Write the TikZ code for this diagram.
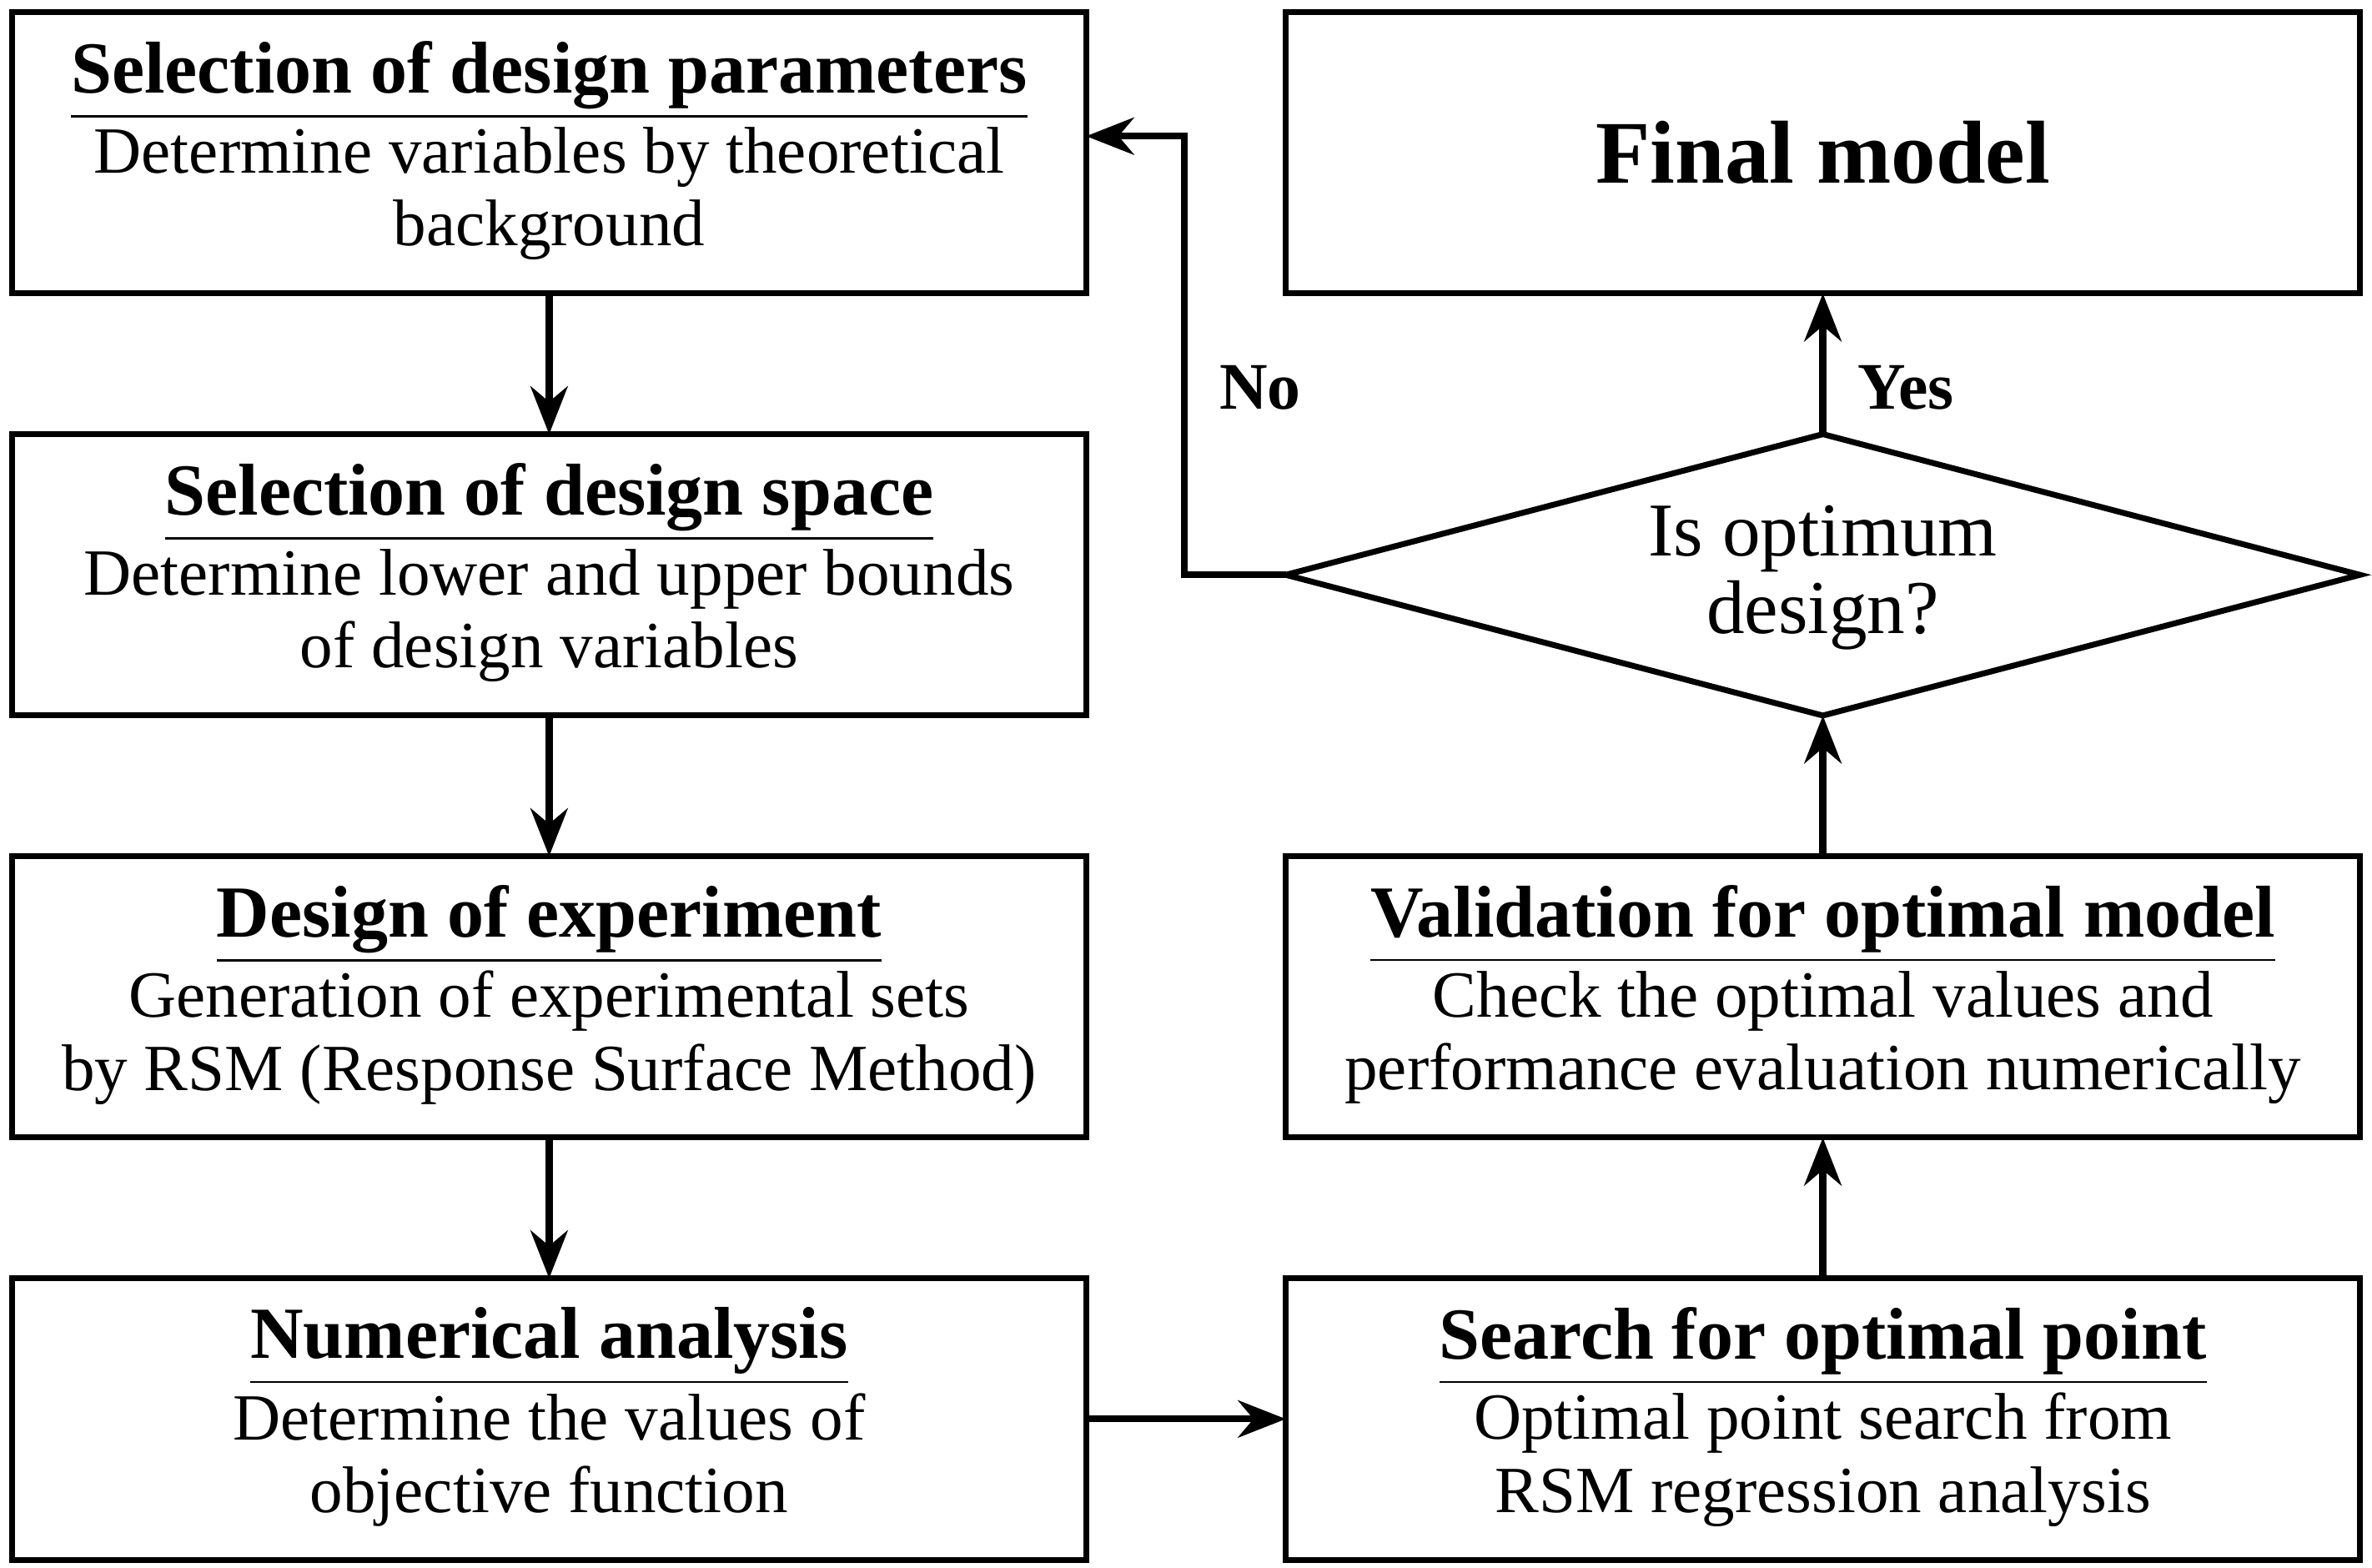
\documentclass[tikz,border=0pt]{standalone}
\usepackage{fontspec}
\setmainfont{Liberation Serif}
\usetikzlibrary{shapes.geometric,arrows.meta}
\begin{document}
\begin{tikzpicture}[x=0.01cm,y=-0.01cm,
  ar/.style={line width=1.3pt,-{Stealth[length=9pt,width=7pt]}},
  t/.style={font=\fontsize{13.8}{14}\selectfont\bfseries},
  b/.style={font=\fontsize{12.4}{13.7}\selectfont,align=center}]
\useasboundingbox (0,0) rectangle (1568,1036);
\tikzset{bx/.style={draw,line width=1.1pt}}
\foreach \n/\x/\y in {a/8/8,b/8/287,c/8/566,d/8/845,s/850/845,v/850/566,f/850/8}{
  \draw[bx] (\x,\y) rectangle ++(710,186);
  \coordinate (\n) at (\x+355,\y+93);
}
\node[t] at (363,53) {\underline{Selection of design parameters}};
\node[b] at (363,128) {Determine variables by theoretical\\background};
\node[t] at (363,332) {\underline{Selection of design space}};
\node[b] at (363,407) {Determine lower and upper bounds\\of design variables};
\node[t] at (363,611) {\underline{Design of experiment}};
\node[b] at (363,686) {Generation of experimental sets\\by RSM (Response Surface Method)};
\node[t] at (363,890) {\underline{Numerical analysis}};
\node[b] at (363,965) {Determine the values of\\objective function};
\node[t] at (1205,890) {\underline{Search for optimal point}};
\node[b] at (1205,965) {Optimal point search from\\RSM regression analysis};
\node[t] at (1205,611) {\underline{Validation for optimal model}};
\node[b] at (1205,686) {Check the optimal values and\\performance evaluation numerically};
\node[font=\fontsize{16.8}{17}\selectfont\bfseries] (fm) at (1205,101) {Final model};
\draw[bx] (850,380) -- (1205,287) -- (1560,380) -- (1205,473) -- cycle;
\coordinate (dl) at (850,380); \coordinate (dt) at (1205,287); \coordinate (db) at (1205,473);
\node[font=\fontsize{14.3}{14.5}\selectfont,align=center] (q) at (1205,382) {Is optimum\\design?};
\draw[ar] (363,194) -- (363,287);
\draw[ar] (363,473) -- (363,566);
\draw[ar] (363,752) -- (363,845);
\draw[ar] (718,938) -- (850,938);
\draw[ar] (1205,845) -- (1205,752);
\draw[ar] (1205,566) -- (db);
\draw[ar] (dt) -- (1205,194);
\draw[ar] (dl) -- (783,380) -- (783,90) -- (718,90);
\node[font=\fontsize{12.5}{13}\selectfont\bfseries] at (833,256) {No};
\node[font=\fontsize{12.5}{13}\selectfont\bfseries] at (1260,256) {Yes};
\end{tikzpicture}
\end{document}
